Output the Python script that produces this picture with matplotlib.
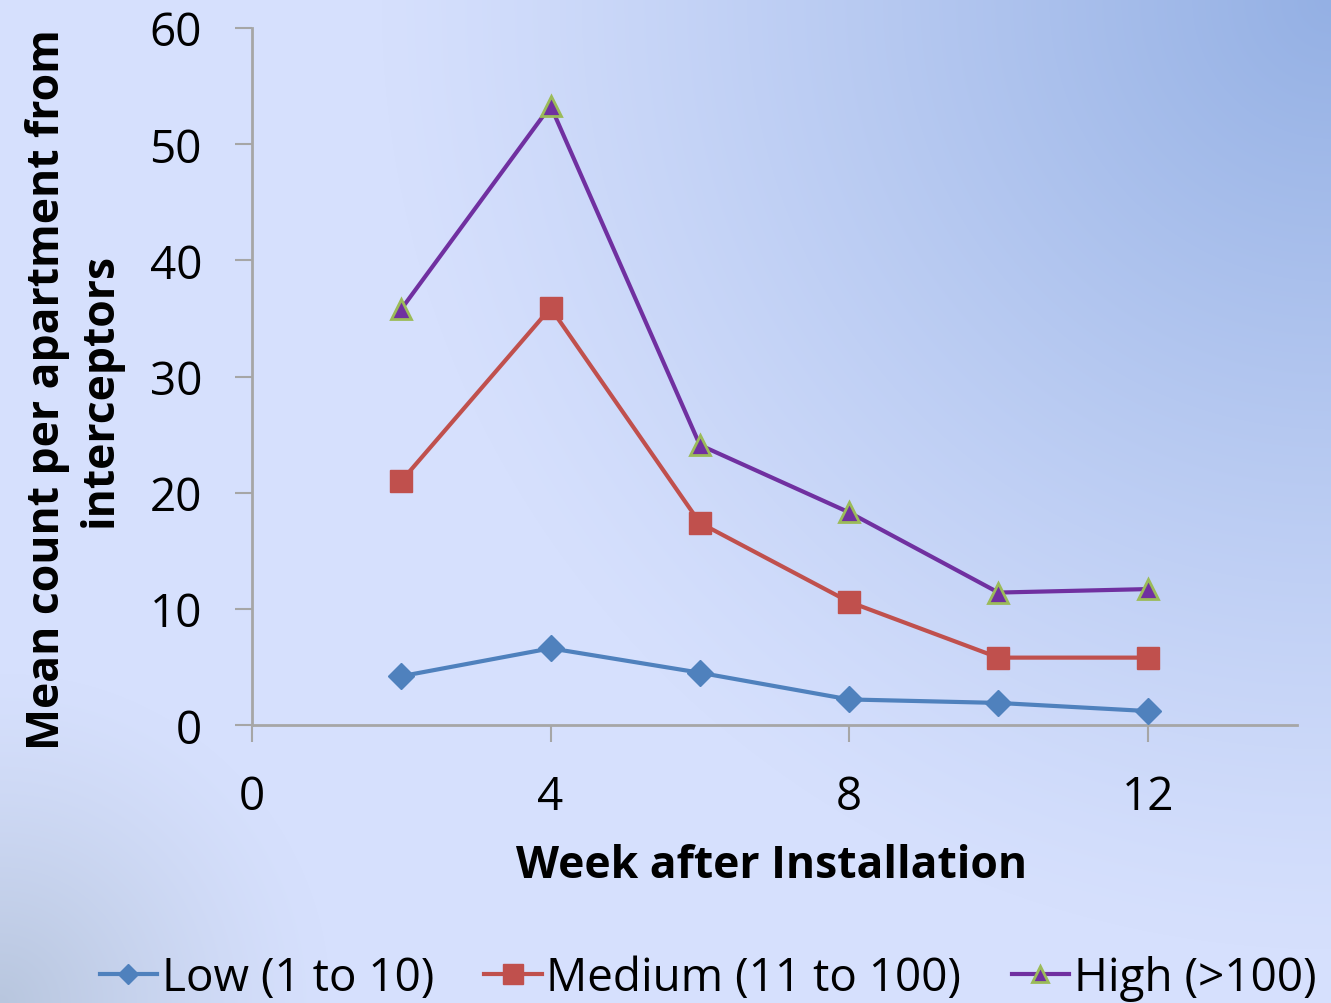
import numpy as np
import matplotlib
matplotlib.use("Agg")
import matplotlib.pyplot as plt
from matplotlib.lines import Line2D

plt.rcParams['font.family'] = ['Open Sans', 'DejaVu Sans']

weeks = [2, 4, 6, 8, 10, 12]
low = [4.2, 6.6, 4.5, 2.2, 1.9, 1.2]
medium = [21.0, 35.9, 17.4, 10.6, 5.8, 5.8]
high = [35.8, 53.3, 24.1, 18.3, 11.4, 11.7]

series_names = ["Low (1 to 10)", "Medium (11 to 100)", "High (>100)"]
x_ticks = [0, 4, 8, 12]
y_ticks = [0, 10, 20, 30, 40, 50, 60]

W, H = 1331, 1004
fig = plt.figure(figsize=(W / 100, H / 100), dpi=100)

# Slide-style background: pale lavender, deepening to blue at the top right,
# with a soft grey-blue shade in the lower left corner.
yy, xx = np.mgrid[0:H, 0:W].astype(float)
base = np.array([214, 224, 253]) / 255.0
blue = np.array([148, 176, 228]) / 255.0
shade = np.array([184, 198, 222]) / 255.0
d_tr = np.hypot(W - xx, yy)
t = np.clip(1 - d_tr / 950.0, 0, 1) ** 1.15
d_bl = np.hypot(xx, H - yy)
s = np.clip(1 - d_bl / 330.0, 0, 1) ** 1.3
img = base[None, None, :] * (1 - t[..., None]) + blue[None, None, :] * t[..., None]
img = img * (1 - s[..., None]) + shade[None, None, :] * s[..., None]
bg = fig.add_axes([0, 0, 1, 1], zorder=-10)
bg.imshow(img, aspect='auto', extent=[0, 1, 0, 1])
bg.axis('off')

ax = fig.add_axes([252 / W, 1 - 726 / H, (1297 - 252) / W, (726 - 29) / H])
ax.patch.set_alpha(0)

c_low, c_med, c_high, c_edge = "#4F81BD", "#C0504D", "#7030A0", "#9BBB59"
ax.plot(weeks, low, color=c_low, lw=3, marker='D', ms=13, mfc=c_low, mec=c_low,
        label=series_names[0], zorder=3)
ax.plot(weeks, medium, color=c_med, lw=3, marker='s', ms=16, mfc=c_med, mec=c_med,
        label=series_names[1], zorder=3)
ax.plot(weeks, high, color=c_high, lw=3, marker='^', ms=15, mfc=c_high, mec=c_edge,
        mew=2, label=series_names[2], zorder=3)

ax.set_xlim(0, 14)
ax.set_ylim(0, 60)
ax.set_xticks(x_ticks)
ax.set_yticks(y_ticks)
for sp in ['top', 'right']:
    ax.spines[sp].set_visible(False)
for sp in ['left', 'bottom']:
    ax.spines[sp].set_color('#A6A6A6')
    ax.spines[sp].set_linewidth(2)
ax.tick_params(axis='both', direction='out', length=12, width=1.5, color='#A6A6A6',
               labelsize=33, labelcolor='black')
ax.tick_params(axis='y', pad=24)
ax.tick_params(axis='x', pad=23)

ax.set_xlabel("Week after Installation", fontsize=32, fontweight='bold')
ax.xaxis.set_label_coords(0.497, -0.170)
ax.set_ylabel("Mean count per apartment from\ninterceptors", fontsize=32,
              fontweight='bold', linespacing=1.22)
ax.yaxis.set_label_coords(-0.124, 0.482)

handles = [Line2D([], [], color=c_low, lw=3, marker='D', ms=10, mfc=c_low, mec=c_low),
           Line2D([], [], color=c_med, lw=3, marker='s', ms=14, mfc=c_med, mec=c_med),
           Line2D([], [], color=c_high, lw=3, marker='^', ms=12, mfc=c_high, mec=c_edge, mew=2)]
fig.legend(handles, series_names, loc='center', bbox_to_anchor=(708 / W, 1 - 979 / H),
           ncol=3, frameon=False, fontsize=33, handlelength=1.25, handletextpad=0.1,
           columnspacing=1.1, borderpad=0, borderaxespad=0)

fig.savefig("out.png", dpi=100)
